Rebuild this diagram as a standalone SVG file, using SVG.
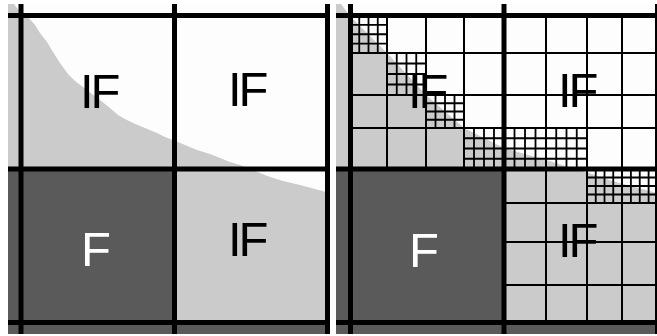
<svg xmlns="http://www.w3.org/2000/svg" width="657" height="336" viewBox="0 0 657 336">
<style>
.bg{fill:#fdfdfd}
.lg{fill:#cbcbcb}
.dg{fill:#5a5a5a}
.thick{stroke:#000;stroke-width:5;fill:none}
.thin{stroke:#000;stroke-width:2;fill:none}
.fine{stroke:#000;stroke-width:1.8;fill:none}
.lbl{font-family:"Liberation Sans",Arial,sans-serif;font-size:49px;letter-spacing:-3px}
.blk{fill:#000}
.wht{fill:#fff}
</style>
<rect width="657" height="336" fill="#fff"/>
<g id="left-panel">
  <rect class="bg" x="8" y="4" width="322" height="330"/>
  <polygon class="lg" points="8,334 8,4 14,4 20,12 28,17 35,25 40,33 47,42 53,52 60,63 68,74 75,81 83,87 92,94 100,100 110,108 118,115 125,119 133,123 145,128 157,133 165,137 173,140 185,145 197,150 210,154 220,158 230,162 240,165 250,169 260,173 270,177 283,181 300,185 315,189 330,193 330,334"/>
  <rect class="dg" x="8" y="169" width="166" height="165"/>
  <rect class="dg" x="8" y="322" width="322" height="12"/>
  <g id="left-cell-tl"><text class="lbl blk" x="80" y="108">IF</text></g>
  <g id="left-cell-tr"><text class="lbl blk" x="228" y="106">IF</text></g>
  <g id="left-cell-bl"><text class="lbl wht" x="81" y="266">F</text></g>
  <g id="left-cell-br"><text class="lbl blk" x="228" y="256">IF</text></g>
  <path class="thick" d="M21,4V334M174.5,4V334M327.5,4V334M8,15.5H330M8,169H330M8,322.5H330"/>
</g>
<g id="right-panel">
  <rect class="bg" x="336" y="4" width="321" height="330"/>
  <polygon class="lg" points="336,334 336,4 341,4 350,16 387,53 426,95 464,128 504,148 546,160 575,169 589,173 612,181 657,193 657,334"/>
  <rect class="dg" x="336" y="169" width="168" height="165"/>
  <rect class="dg" x="336" y="322" width="321" height="12"/>
  <g id="right-cell-tl"><text class="lbl blk" x="408" y="108">IF</text></g>
  <g id="right-cell-tr"><text class="lbl blk" x="558" y="107">IF</text></g>
  <g id="right-cell-bl"><text class="lbl wht" x="409" y="267">F</text></g>
  <g id="right-cell-br"><text class="lbl blk" x="558" y="257">IF</text></g>
  <path class="fine" d="M359.25,15.5V53M368.5,15.5V53M377.75,15.5V53M350,24.9H387M350,34.25H387M350,43.6H387
  M396.75,53V95M406.5,53V95M416.25,53V95M387,63.5H426M387,74H426M387,84.5H426
  M435.5,95V128M445,95V128M454.5,95V128M426,103.25H464M426,111.5H464M426,119.75H464
  M474,128V169M484,128V169M494,128V169M514.5,128V169M525,128V169M535.5,128V169M556.25,128V169M566.5,128V169M576.75,128V169M464,138.25H587M464,148.5H587M464,158.75H587
  M595.75,169V203M604.5,169V203M613.25,169V203M630.9,169V203M639.75,169V203M648.6,169V203M587,177.5H657M587,186H657M587,194.5H657"/>
  <path class="thin" d="M387,15.5V169M426,15.5V169M464,15.5V169M546,15.5V322.5M587,15.5V322.5M622,15.5V322.5M350,53H657M350,95H657M350,128H657M504,203H657M504,242H657M504,285H657"/>
  <path class="thick" d="M350.5,4V334M504,4V334M657.5,4V334M336,15.5H657M336,169H657M336,322.5H657"/>
</g>
</svg>
